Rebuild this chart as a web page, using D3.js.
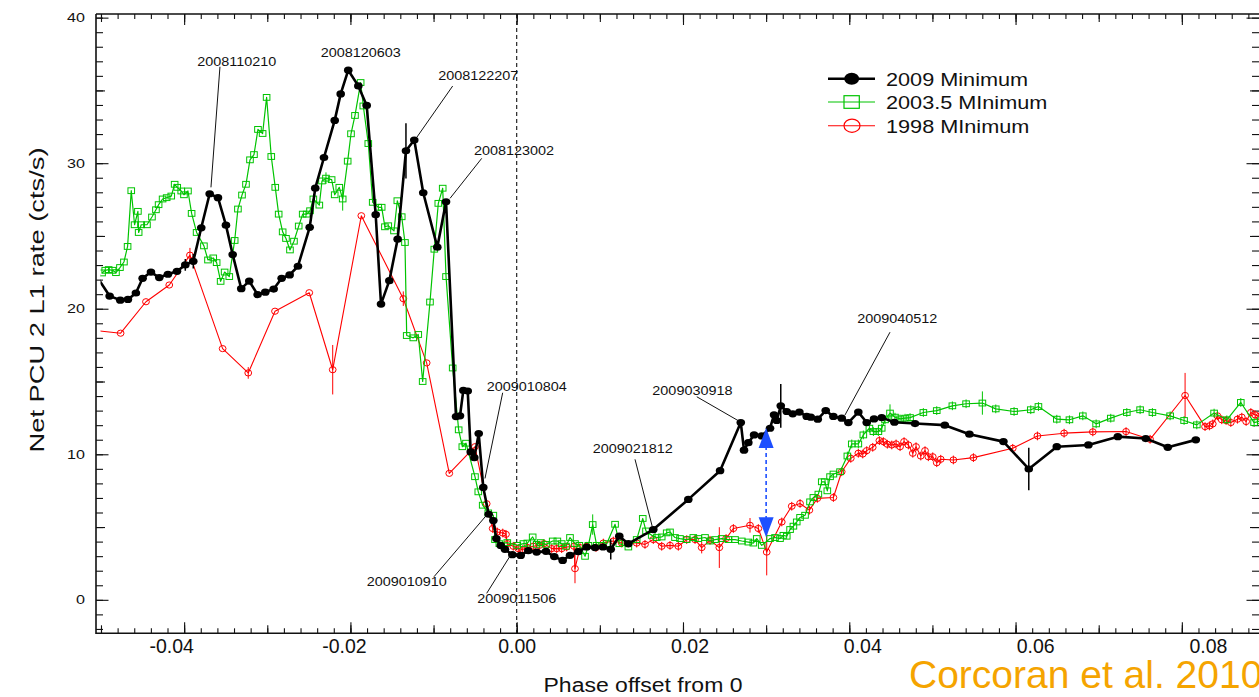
<!DOCTYPE html>
<html>
<head>
<meta charset="utf-8">
<script src="https://cdn.jsdelivr.net/npm/d3@7"></script>
<style>
  html, body { margin: 0; padding: 0; background: #ffffff; }
  svg { display: block; }
  text { font-family: "Liberation Sans", Arial, Helvetica, sans-serif; }
</style>
</head>
<body>
<svg id="chart" width="1259" height="697"></svg>
<script>
// ---- data: [phase offset, net rate (cts/s), error] ----
const min2009 = [
  [-0.0506,22.3],[-0.04896,20.87],[-0.04768,20.59],[-0.04676,20.64],[-0.0458,21.08],[-0.04499,22.09],
  [-0.04399,22.52],[-0.04299,22.14],[-0.04195,22.37],[-0.04086,22.57],[-0.03986,23.01,0.4],[-0.0389,23.26,0.5],
  [-0.03794,25.56],[-0.03693,27.90],[-0.03593,27.63],[-0.03497,25.74],[-0.03416,23.72],[-0.03313,21.38],
  [-0.03217,21.90],[-0.03116,20.97],[-0.03024,21.14],[-0.02923,21.35],[-0.02827,22.09],[-0.02731,22.32],
  [-0.02631,22.92],[-0.0249,25.59],[-0.02423,28.28],[-0.02318,30.39],[-0.02189,32.94],[-0.02117,34.76],
  [-0.02026,36.39],[-0.01905,35.31],[-0.01804,33.97],[-0.01696,26.46],[-0.01632,20.32],[-0.01532,21.93],
  [-0.01432,24.78],[-0.01332,30.85,1.9],[-0.01232,31.59],[-0.01124,27.97],[-0.00955,24.23],[-0.0085,27.35],
  [-0.0073,12.59],[-0.00682,12.64],[-0.00642,14.39],[-0.00589,14.34],[-0.00553,10.16],[-0.0051,9.77],
  [-0.00457,11.42],[-0.00402,7.72],[-0.00337,5.88],[-0.00281,5.45],[-0.00245,4.21],[-0.00192,3.74],
  [-0.00141,3.47],[-0.00053,3.10],[0.00048,3.05],[0.0014,3.38],[0.0024,3.28],[0.00352,3.33],[0.00452,2.97],
  [0.00553,2.71],[0.00641,3.06],[0.00741,3.31],[0.00842,3.63],[0.00942,3.59],[0.01038,3.63],[0.01131,3.47,0.7],
  [0.01234,4.37],[0.01343,3.86],[0.01643,4.83],[0.02064,6.9],[0.02446,8.87],[0.02695,12.18],[0.02734,10.28],
  [0.02786,10.8],[0.02855,11.33],[0.02947,11.26],[0.03047,11.79],[0.03095,12.71],[0.03128,12.32],
  [0.03176,13.33,1.5],[0.03248,12.94],[0.0332,12.78],[0.034,12.9],[0.03488,12.6],[0.03537,12.55],[0.03621,12.41],
  [0.03717,13.0],[0.03809,12.6],[0.03909,12.48],[0.03989,12.18],[0.04109,12.9],[0.0421,12.18],[0.04298,12.43],
  [0.0439,12.52],[0.04543,12.2],[0.04791,12.11],[0.05149,12.0],[0.05445,11.38],[0.05854,10.87],[0.06159,8.99,1.46],
  [0.06496,10.52],[0.06876,10.64],[0.0723,11.21],[0.07566,11.08],[0.07831,10.48],[0.08168,10.99]
];

const min2003 = [
  [-0.04987,22.46],[-0.04949,22.64],[-0.04908,22.69],[-0.0486,22.64],[-0.0482,22.48],[-0.04772,22.83],
  [-0.04724,23.21],[-0.0468,24.28],[-0.04636,28.11],[-0.04596,25.77],[-0.04556,26.69],[-0.04547,25.24],
  [-0.04516,25.77],[-0.04447,25.77],[-0.04387,26.3],[-0.04339,26.8],[-0.04307,27.15],[-0.04259,27.54],
  [-0.0421,27.63],[-0.04155,27.74],[-0.04114,28.55],[-0.04083,28.34],[-0.04035,28.09],[-0.04002,27.83],
  [-0.03954,28.09],[-0.0391,26.55],[-0.0385,25.24],[-0.03762,24.32],[-0.03713,23.35],[-0.0365,23.49],
  [-0.03609,23.17],[-0.03561,21.88],[-0.03513,22.52],[-0.03457,22.21],[-0.03392,24.69],[-0.03353,26.85],
  [-0.03304,27.81],[-0.03256,28.55],[-0.03208,30.23],[-0.0316,30.59],[-0.03112,32.32],[-0.03056,32.04],
  [-0.03008,34.52],[-0.02952,30.46],[-0.02904,28.34],[-0.02863,26.5],[-0.02815,25.28],[-0.02775,24.83],
  [-0.02727,24.04],[-0.02679,24.64],[-0.02622,25.68],[-0.02574,26.5],[-0.02526,26.5],[-0.02486,26.73],
  [-0.02446,27.54],[-0.02374,27.12],[-0.02342,28.78],[-0.02294,28.97,0.4],[-0.02226,28.87],[-0.02189,27.83],
  [-0.02134,28.34],[-0.02093,27.54,0.8],[-0.02033,30.14],[-0.01993,32.02],[-0.01945,33.28],[-0.01877,35.54],
  [-0.01845,33.93],[-0.01785,31.35],[-0.01732,27.31],[-0.01665,26.97],[-0.01624,26.97],[-0.01585,25.63],
  [-0.01545,25.7],[-0.01476,25.35],[-0.01436,27.42],[-0.01383,26.32],[-0.01344,24.55],[-0.01323,18.16],
  [-0.01244,18.0],[-0.01184,18.23],[-0.01131,15.0],[-0.01043,20.46],[-0.00991,24.09],[-0.00943,27.24],
  [-0.0089,28.28],[-0.0085,22.21],[-0.0077,15.93],[-0.00698,11.68],[-0.00654,10.52],[-0.0061,10.76],
  [-0.00502,8.46],[-0.00462,7.42],[-0.00409,6.5],[-0.00342,5.97],[-0.00281,5.81],[-0.00261,4.14],
  [-0.00209,3.86],[-0.00113,3.93],[0.00007,3.74],[0.0008,3.86],[0.00128,3.9],[0.00192,4.32],[0.0024,3.81],
  [0.00289,3.93],[0.00352,3.81],[0.00433,4.04],[0.00489,4.04],[0.00541,3.86],[0.00593,3.68],[0.00641,4.28],
  [0.00701,3.86],[0.00753,3.74],[0.00822,2.99],[0.00862,3.74],[0.00914,5.17,0.7],[0.00962,3.74],[0.01022,3.74],
  [0.01083,3.86],[0.01183,5.19],[0.01234,3.86],[0.01343,3.63],[0.01443,4.14],[0.01516,5.59],[0.01555,4.73],
  [0.01624,4.43],[0.01684,4.28],[0.01744,4.32],[0.01804,4.6],[0.01844,4.66],[0.01904,4.28],[0.01964,4.21],
  [0.02045,4.14],[0.02124,4.28],[0.02184,4.21],[0.02265,4.28],[0.02325,4.04],[0.02385,4.14],[0.02466,4.21],
  [0.02546,4.14],[0.02626,4.14],[0.02707,4.04],[0.02786,3.97],[0.02846,3.9],[0.02887,4.21],[0.02947,3.74],
  [0.03047,4.21],[0.03107,4.28],[0.03167,4.21],[0.03207,4.43],[0.03248,4.37],[0.03288,4.83],[0.03328,5.06],
  [0.03368,5.35],[0.03408,5.66],[0.03468,5.81],[0.03528,6.73],[0.03568,7.03],[0.03628,7.26],[0.03669,8.11],
  [0.03705,8.11],[0.03736,7.49],[0.03769,8.46],[0.03809,8.64],[0.03889,8.8],[0.03977,9.88,0.3],[0.0403,10.71,0.3],
  [0.04109,10.71,0.3],[0.04169,11.33,0.3],[0.04242,11.79,0.3],[0.0429,11.56,0.3],[0.0435,11.56,0.3],[0.0439,11.79,0.3],
  [0.0443,12.37,0.3],[0.0449,12.83,0.6],[0.0455,12.55,0.3],[0.04611,12.43,0.3],[0.04671,12.48,0.3],[0.04731,12.52,0.3],
  [0.04891,12.87,0.3],[0.05052,13.0,0.3],[0.0524,13.33,0.3],[0.05405,13.47,0.3],[0.05601,13.52,0.8],[0.05762,13.12,0.3],
  [0.05982,12.94,0.3],[0.06183,13.06,0.3],[0.06275,13.28,0.3],[0.06496,12.41,0.3],[0.06648,12.37,0.3],[0.06809,12.64,0.3],
  [0.06969,12.09,0.3],[0.07145,12.48,0.3],[0.07338,12.87,0.3],[0.07498,13.06,0.3],[0.07646,12.87,0.3],[0.07859,12.64,0.3],
  [0.08027,12.32,0.3],[0.0818,12.02,0.3],[0.08388,12.83,0.3],[0.08541,12.37,0.3],[0.08709,13.56,0.3],[0.08869,12.18,0.3],
  [0.0895,12.3,0.3]
];

const min1998 = [
  [-0.0506,18.5],[-0.04764,18.32],[-0.04459,20.48],[-0.04179,21.63],[-0.0393,23.68,0.5],[-0.03537,17.26],
  [-0.03229,15.59,0.4],[-0.02907,19.83],[-0.02495,21.1],[-0.02213,15.81,1.7],[-0.01869,26.39],[-0.01364,20.69,0.5],
  [-0.01083,16.28],[-0.00811,8.69],[-0.00502,10.52],[-0.00361,6.6],[-0.00289,4.9,0.3],[-0.00233,4.66,0.3],
  [-0.00168,4.59,0.3],[-0.00129,4.5,0.3],[-0.00113,3.86,0.3],[-0.00041,3.68,0.3],[0.00019,3.52,0.3],[0.00072,3.45,0.3],
  [0.0013,3.6,0.3],[0.002,3.68,0.3],[0.00272,3.74,0.3],[0.00328,3.86,0.3],[0.00421,3.52,0.3],[0.00481,3.52,0.3],
  [0.00541,3.52,0.3],[0.00601,3.63,0.3],[0.00689,3.68,0.3],[0.00701,2.14,1.0],[0.00761,3.59,0.3],[0.00842,3.68,0.3],
  [0.00954,3.59,0.3],[0.01042,3.9,0.3],[0.01162,4.04,0.3],[0.01263,3.9,0.3],[0.01443,3.9,0.3],[0.01543,3.81,0.3],
  [0.01643,4.14,0.3],[0.01744,3.68,0.3],[0.01844,3.74,0.3],[0.01944,3.68,0.3],[0.02045,4.14,0.3],[0.02145,4.14,0.3],
  [0.02225,3.59,0.4],[0.02325,4.09,0.3],[0.02437,3.59,1.4],[0.02518,4.21,0.3],[0.02606,4.9,0.3],[0.02806,5.12,0.5],
  [0.02906,4.9,0.3],[0.03007,3.28,1.6],[0.03188,5.35,0.3],[0.03308,6.43,0.3],[0.03408,6.62,0.3],[0.0352,6.16,0.3],
  [0.03616,6.97,0.3],[0.03809,7.03,0.3],[0.03909,8.8,0.3],[0.04018,9.72,0.3],[0.04109,10.07,0.3],[0.04162,10.02,0.3],
  [0.0421,10.25,0.3],[0.04282,10.48,0.3],[0.04362,10.94,0.3],[0.0441,10.87,0.3],[0.04458,10.69,0.3],[0.04511,10.64,0.3],
  [0.04563,10.71,0.3],[0.04611,10.52,0.3],[0.04659,10.87,0.3],[0.04711,10.64,0.3],[0.04764,10.07,0.3],[0.04803,10.52,0.3],
  [0.0486,9.88,0.3],[0.04911,10.25,0.3],[0.04951,9.83,0.3],[0.05004,9.83,0.3],[0.05052,9.42,0.3],[0.051,9.66,0.3],
  [0.05252,9.61,0.3],[0.05493,9.77,0.3],[0.05966,10.41,0.3],[0.06263,11.26,0.3],[0.06584,11.45,0.3],[0.06929,11.54,0.3],
  [0.07329,11.56,0.3],[0.07618,11.03,0.3],[0.08039,14.04,1.55],[0.08279,11.9,0.3],[0.08332,11.95,0.3],[0.08372,12.09,0.3],
  [0.08428,12.64,0.3],[0.0848,12.37,0.3],[0.08532,12.32,0.3],[0.08589,12.18,0.3],[0.08669,12.41,0.3],[0.08721,12.55,0.3],
  [0.08773,12.25,0.3],[0.0883,12.87,0.3],[0.08881,12.71,0.3],[0.0893,12.6,0.3]
];

// observation labels attached to points of the 2009 curve
const callouts = [
  { label: "2008110210", x: -0.03693 },
  { label: "2008120603", x: -0.02026 },
  { label: "2008122207", x: -0.01232 },
  { label: "2008123002", x: -0.0085 },
  { label: "2009010804", x: -0.00402 },
  { label: "2009010910", x: -0.00337 },
  { label: "2009011506", x: -0.00053 },
  { label: "2009021812", x: 0.01643 },
  { label: "2009030918", x: 0.02695 },
  { label: "2009040512", x: 0.03909 }
];

// recovery gap marker: phase, lower and upper rate
const gapArrow = [0.030, 4.3, 11.8];

const seriesNames = ["2009 Minimum", "2003.5 MInimum", "1998 MInimum"];
const xTickLabels = ["-0.04", "-0.02", "0.00", "0.02", "0.04", "0.06", "0.08"];
const yTickLabels = ["0", "10", "20", "30", "40"];

// ---- layout ----
const W = 1259, H = 697;
const plot = { left: 96, right: 1260, top: 14, bottom: 633.3 };
const colors = { k: "#000000", g: "#00c400", r: "#ff0000", blue: "#1d4fff", orange: "#f5a400" };

// leader line start/end and label anchor, in px relative to the point
const calloutLayout = {
  "2008110210": { l: [1.3, -6.4, 10.3, -127], t: [-12.4, -128] },
  "2008120603": { l: null, t: [-27.6, -12.8] },
  "2008122207": { l: [2.7, -3, 38.4, -54], t: [24, -60] },
  "2008123002": { l: [4, -3.4, 35.7, -43.4], t: [28, -46.7] },
  "2009010804": { l: [1.7, -9, 19.4, -94.7], t: [3.4, -96.7] },
  "2009010910": { l: [-2, 0.8, -54.7, 62.5], t: [-122, 71.8] },
  "2009011506": { l: [-1.6, 0.3, -25.6, 38.6], t: [-35, 48] },
  "2009021812": { l: [-1, -2.8, -18.3, -70.2], t: [-60.6, -76.8] },
  "2009030918": { l: [-2.4, -1.8, -44, -25.8], t: [-88.4, -27.5] },
  "2009040512": { l: [3.3, -3.2, 48.3, -86], t: [15.6, -95.5] }
};

const svg = d3.select("#chart");
svg.append("rect").attr("width", W).attr("height", H).attr("fill", "#ffffff");

const x = d3.scaleLinear().domain([-0.0506, 0.0894]).range([plot.left, plot.right]);
const y = d3.scaleLinear().domain([-2.3, 40.25]).range([plot.bottom, plot.top]);
// tick numerals are set on a slightly wider spacing than the ticks
const xLab = d3.scaleLinear().domain([0, 0.02]).range([x(0), x(0) + 172.8]);

function stretch(sel, k) {
  sel.each(function () {
    const w = this.getComputedTextLength();
    this.setAttribute("textLength", (w * k).toFixed(1));
    this.setAttribute("lengthAdjust", "spacingAndGlyphs");
  });
}

svg.append("defs").append("clipPath").attr("id", "clip")
  .append("rect").attr("x", 100.5).attr("y", plot.top)
  .attr("width", plot.right - 100.5).attr("height", plot.bottom - plot.top);

// ---- axes (ticks point inward on all four sides) ----
const xMinor = d3.range(-25, 45).map(i => +(i * 0.002).toFixed(3));
const xMid = d3.range(-5, 9).map(i => +(i * 0.01).toFixed(2));
const xMajor = xTickLabels.map(Number);
const yMinor = d3.range(-2, 41);
const yMid = [5, 15, 25, 35];
const yMajor = yTickLabels.map(Number);

function tickLayer(axisFn, scale, values, size, transform) {
  const g = svg.append("g").attr("transform", transform)
    .call(axisFn(scale).tickValues(values).tickSizeInner(-size).tickSizeOuter(0).tickFormat(""));
  g.select(".domain").remove();
  g.selectAll(".tick line").attr("stroke", "#111").attr("stroke-width", 1.1);
  return g;
}
[[xMinor, 5], [xMid, 8], [xMajor, 11]].forEach(([v, s]) => {
  tickLayer(d3.axisBottom, x, v, s, `translate(0,${plot.bottom})`);
  tickLayer(d3.axisTop, x, v, s, `translate(0,${plot.top})`);
});
[[yMinor, 7], [yMid, 9], [yMajor, 12.5]].forEach(([v, s]) => {
  tickLayer(d3.axisLeft, y, v, s, `translate(${plot.left},0)`);
  tickLayer(d3.axisRight, y, v, s, `translate(${plot.right - 1},0)`);
});

// frame
svg.append("path")
  .attr("d", `M${plot.left},${plot.top}H${plot.right}M${plot.left},${plot.top}V${plot.bottom}H${plot.right}`)
  .attr("fill", "none").attr("stroke", "#111").attr("stroke-width", 1.6);

// tick numerals
const xLabG = svg.append("g").attr("transform", `translate(0,${plot.bottom})`)
  .call(d3.axisBottom(xLab).tickValues(xMajor).tickSize(0).tickPadding(6)
    .tickFormat((d, i) => xTickLabels[i]));
xLabG.select(".domain").remove();
xLabG.selectAll("text").attr("font-size", 19.5).attr("fill", "#111")
  .attr("font-family", "'Liberation Sans', Arial, sans-serif");

const yLabG = svg.append("g").attr("transform", `translate(${plot.left},0)`)
  .call(d3.axisLeft(y).tickValues(yMajor).tickSize(0).tickPadding(11)
    .tickFormat((d, i) => yTickLabels[i]));
yLabG.select(".domain").remove();
yLabG.selectAll("text").attr("font-size", 13).attr("fill", "#111")
  .attr("font-family", "'Liberation Sans', Arial, sans-serif");
stretch(yLabG.selectAll("text"), 1.24);

// axis titles
const yTitle = svg.append("text").attr("transform", "translate(44,300) rotate(-90)")
  .attr("text-anchor", "middle").attr("font-size", 21).attr("fill", "#111")
  .text("Net PCU 2 L1 rate (cts/s)");
stretch(yTitle, 1.3);
const xTitle = svg.append("text").attr("x", 643).attr("y", 691.5)
  .attr("text-anchor", "middle").attr("font-size", 20).attr("fill", "#111")
  .text("Phase offset from 0");
stretch(xTitle, 1.15);

// zero-phase reference
svg.append("line").attr("x1", x(0)).attr("x2", x(0)).attr("y1", plot.top).attr("y2", plot.bottom)
  .attr("stroke", "#111").attr("stroke-width", 1.1).attr("stroke-dasharray", "4,3");

// ---- series ----
const lineGen = d3.line().x(d => x(d[0])).y(d => y(d[1]));
const dataG = svg.append("g").attr("clip-path", "url(#clip)");

function drawSeries(data, color, width, marker, errWidth) {
  const g = dataG.append("g");
  g.append("path").datum(data).attr("d", lineGen)
    .attr("fill", "none").attr("stroke", color).attr("stroke-width", width)
    .attr("stroke-linejoin", "round");
  g.selectAll(".err").data(data.filter(d => d[2])).join("line")
    .attr("x1", d => x(d[0])).attr("x2", d => x(d[0]))
    .attr("y1", d => y(d[1] - d[2])).attr("y2", d => y(d[1] + d[2]))
    .attr("stroke", color).attr("stroke-width", errWidth);
  marker(g.selectAll(".pt").data(data).enter());
}

drawSeries(min1998, colors.r, 1.1, sel => sel.append("ellipse")
  .attr("cx", d => x(d[0])).attr("cy", d => y(d[1])).attr("rx", 3.4).attr("ry", 3.1)
  .attr("fill", "none").attr("stroke", colors.r).attr("stroke-width", 1), 1);

drawSeries(min2003, colors.g, 1.2, sel => sel.append("rect")
  .attr("x", d => x(d[0]) - 3.3).attr("y", d => y(d[1]) - 2.9).attr("width", 6.6).attr("height", 5.8)
  .attr("fill", "none").attr("stroke", colors.g).attr("stroke-width", 1), 1);

drawSeries(min2009, colors.k, 2.6, sel => sel.append("ellipse")
  .attr("cx", d => x(d[0])).attr("cy", d => y(d[1])).attr("rx", 4.3).attr("ry", 3.6)
  .attr("fill", colors.k), 1.5);

// ---- callouts ----
const calloutG = svg.append("g");
callouts.forEach(c => {
  const p = min2009.find(d => d[0] === c.x);
  const px = x(p[0]), py = y(p[1]);
  const lay = calloutLayout[c.label];
  if (lay.l) {
    calloutG.append("line")
      .attr("x1", px + lay.l[0]).attr("y1", py + lay.l[1])
      .attr("x2", px + lay.l[2]).attr("y2", py + lay.l[3])
      .attr("stroke", "#111").attr("stroke-width", 1);
  }
  const t = calloutG.append("text").attr("x", px + lay.t[0]).attr("y", py + lay.t[1])
    .attr("font-size", 12).attr("fill", "#111").text(c.label);
  stretch(t, 1.2);
});

// ---- gap arrow ----
const ax = x(gapArrow[0]), yLo = y(gapArrow[1]), yHi = y(gapArrow[2]);
svg.append("line").attr("x1", ax).attr("x2", ax).attr("y1", yHi + 18).attr("y2", yLo - 18)
  .attr("stroke", colors.blue).attr("stroke-width", 1.6).attr("stroke-dasharray", "4,3");
svg.append("path").attr("d", `M${ax},${yHi}L${ax - 7.5},${yHi + 20}L${ax + 7.5},${yHi + 20}Z`)
  .attr("fill", colors.blue);
svg.append("path").attr("d", `M${ax},${yLo}L${ax - 7.5},${yLo - 20}L${ax + 7.5},${yLo - 20}Z`)
  .attr("fill", colors.blue);

// ---- legend ----
const legend = svg.append("g");
const legRows = [78.7, 102, 125.7];
const legStyle = [
  { c: colors.k, w: 2.6 },
  { c: colors.g, w: 1.2 },
  { c: colors.r, w: 1.1 }
];
seriesNames.forEach((name, i) => {
  const ly = legRows[i];
  legend.append("line").attr("x1", 828).attr("x2", 875).attr("y1", ly).attr("y2", ly)
    .attr("stroke", legStyle[i].c).attr("stroke-width", legStyle[i].w);
  if (i === 0) {
    legend.append("ellipse").attr("cx", 851.7).attr("cy", ly).attr("rx", 7.5).attr("ry", 6).attr("fill", colors.k);
  } else if (i === 1) {
    legend.append("rect").attr("x", 844).attr("y", ly - 6.3).attr("width", 15.3).attr("height", 12.6)
      .attr("fill", "none").attr("stroke", colors.g).attr("stroke-width", 1.2);
  } else {
    legend.append("ellipse").attr("cx", 852).attr("cy", ly).attr("rx", 8).attr("ry", 6.6)
      .attr("fill", "none").attr("stroke", colors.r).attr("stroke-width", 1.2);
  }
  const t = legend.append("text").attr("x", 886).attr("y", ly + 7).attr("font-size", 19)
    .attr("fill", "#111").text(name);
  stretch(t, 1.14);
});

// ---- citation ----
svg.append("text").attr("x", 909).attr("y", 688)
  .attr("font-family", "Lato, 'Open Sans', sans-serif").attr("font-size", 39)
  .attr("fill", colors.orange).text("Corcoran et al. 2010");
</script>
</body>
</html>
